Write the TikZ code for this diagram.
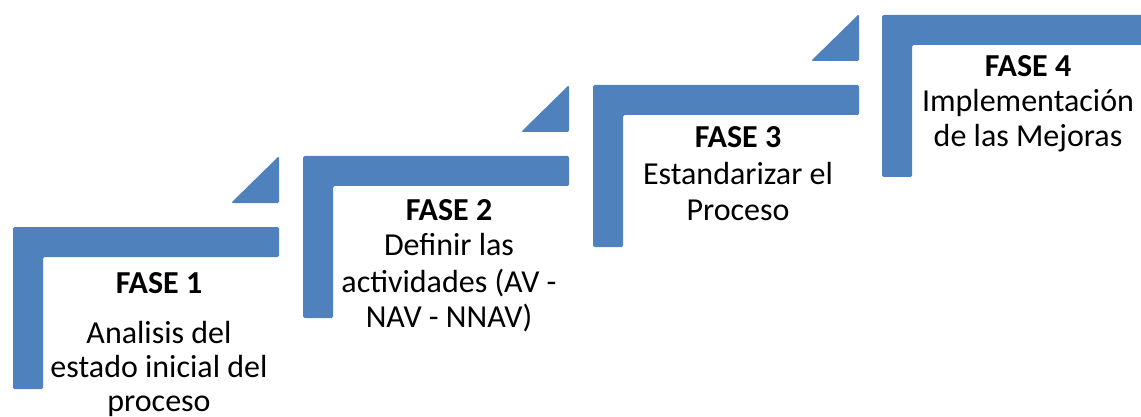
\documentclass[tikz,border=0pt]{standalone}
\usepackage{fontspec}
\setmainfont{Carlito}
\definecolor{stepblue}{RGB}{79,129,189}
\tikzset{
  stair/.style={fill=stepblue, draw=none, rounded corners=1.5pt},
  lbl/.style={anchor=base, inner sep=0pt, font=\fontsize{32}{38}\selectfont},
  ttl/.style={anchor=base, inner sep=0pt, font=\fontsize{32}{38}\selectfont\bfseries}
}
\begin{document}
\begin{tikzpicture}[x=1pt,y=-1pt]
\useasboundingbox (0,0) rectangle (1141,417);
\clip (0,0) rectangle (1141,417);
% L-shaped steps
\foreach \x/\t in {13/227, 303/156, 593/85, 882/15} {
  \fill[stair] (\x,\t) -- ++(266,0) -- ++(0,30) -- ++(-236,0) -- ++(0,132) -- ++(-30,0) -- cycle;
}
% small triangles
\foreach \x/\t in {13/227, 303/156, 593/85} {
  \fill[stair] (\x+218,\t-24) -- (\x+266,\t-71) -- (\x+266,\t-24) -- cycle;
}
% texts
\node[ttl] (f1) at (159,293) {FASE 1};
\node[lbl] (f1a) at (159,343) {Analisis del};
\node[lbl] (f1b) at (159,377) {estado inicial del};
\node[lbl] (f1c) at (159,411) {proceso};
\node[ttl] (f2) at (449,220) {FASE 2};
\node[lbl] (f2a) at (449,255) {Definir las};
\node[lbl] (f2b) at (449,292) {actividades (AV -};
\node[lbl] (f2c) at (449,327) {NAV - NNAV)};
\node[ttl] (f3) at (738,148) {FASE 3};
\node[lbl] (f3a) at (738,185) {Estandarizar el};
\node[lbl] (f3b) at (738,220) {Proceso};
\node[ttl] (f4) at (1028,77) {FASE 4};
\node[lbl] (f4a) at (1028,112) {Implementación};
\node[lbl] (f4b) at (1028,147) {de las Mejoras};
\end{tikzpicture}
\end{document}
